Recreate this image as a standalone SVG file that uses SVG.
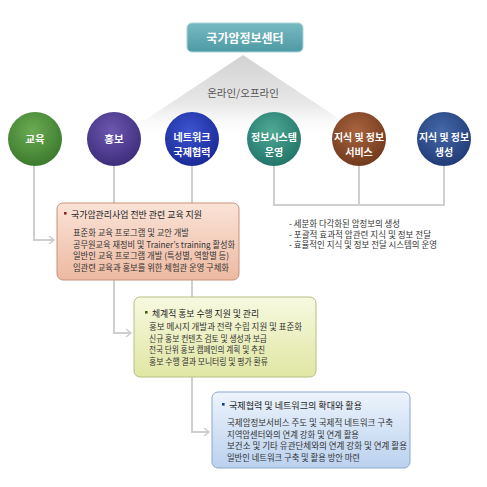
<svg xmlns="http://www.w3.org/2000/svg" width="487" height="487" viewBox="0 0 487 487">
<defs>
<style>
.t{font-family:"Noto Sans CJK KR","Noto Sans",sans-serif;}
.ct{font-family:"Noto Sans CJK KR","Noto Sans",sans-serif;font-size:10.5px;font-weight:bold;fill:#fff;text-anchor:middle;}
.c2{font-size:10px;}
.bh{font-family:"Noto Sans CJK KR","Noto Sans",sans-serif;font-size:9px;fill:#222;}
.bl{font-family:"Noto Sans CJK KR","Noto Sans",sans-serif;font-size:8.6px;fill:#333;}
.conn{fill:none;stroke:#cfcfcf;stroke-width:2;}
</style>
<linearGradient id="tri" x1="0" y1="0" x2="0" y2="1">
<stop offset="0" stop-color="#d2d2d2"/>
<stop offset="0.6" stop-color="#e8e8e8"/>
<stop offset="1" stop-color="#ffffff" stop-opacity="0"/>
</linearGradient>
<linearGradient id="topg" x1="0" y1="0" x2="0" y2="1">
<stop offset="0" stop-color="#78bac2"/>
<stop offset="1" stop-color="#4e9aa4"/>
</linearGradient>
<linearGradient id="g1" x1="0" y1="0" x2="0" y2="1">
<stop offset="0" stop-color="#fae3d7"/>
<stop offset="1" stop-color="#edb9a1"/>
</linearGradient>
<linearGradient id="g2" x1="0" y1="0" x2="0" y2="1">
<stop offset="0" stop-color="#f7f9e0"/>
<stop offset="1" stop-color="#e0e6a4"/>
</linearGradient>
<linearGradient id="g3" x1="0" y1="0" x2="0" y2="1">
<stop offset="0" stop-color="#edf4fc"/>
<stop offset="1" stop-color="#bad1ee"/>
</linearGradient>
<radialGradient id="cGreen" cx="0.45" cy="0.35" r="0.65"><stop offset="0" stop-color="#6aac52"/><stop offset="1" stop-color="#3c7a2e"/></radialGradient>
<radialGradient id="cPurple" cx="0.45" cy="0.35" r="0.65"><stop offset="0" stop-color="#6c58b0"/><stop offset="1" stop-color="#3e2d7c"/></radialGradient>
<radialGradient id="cBlue" cx="0.45" cy="0.35" r="0.65"><stop offset="0" stop-color="#3d55d0"/><stop offset="1" stop-color="#1a2a98"/></radialGradient>
<radialGradient id="cTeal" cx="0.45" cy="0.35" r="0.65"><stop offset="0" stop-color="#4fa894"/><stop offset="1" stop-color="#23766a"/></radialGradient>
<radialGradient id="cBrown" cx="0.45" cy="0.35" r="0.65"><stop offset="0" stop-color="#a8643e"/><stop offset="1" stop-color="#733a1e"/></radialGradient>
<radialGradient id="cNavy" cx="0.45" cy="0.35" r="0.65"><stop offset="0" stop-color="#4468a8"/><stop offset="1" stop-color="#213c78"/></radialGradient>
<marker id="arr" markerWidth="8" markerHeight="10" refX="6" refY="5" orient="auto" markerUnits="userSpaceOnUse">
<polyline points="1,1 6,5 1,9" fill="none" stroke="#cfcfcf" stroke-width="1.6"/>
</marker>
</defs>
<rect width="487" height="487" fill="#ffffff"/>

<g id="triangle">
<polygon points="243,55 118,138 368,138" fill="url(#tri)"/>
<text class="t" x="243" y="97" font-size="10.5" fill="#555" text-anchor="middle">온라인/오프라인</text>
</g>

<g id="connectors">
<path class="conn" d="M34,166 V240 H54" marker-end="url(#arr)"/>
<path class="conn" d="M114,166 V333 H131" marker-end="url(#arr)"/>
<path class="conn" d="M192,166 V432 H209" marker-end="url(#arr)"/>
<path class="conn" d="M274,166 V205 H444 V166"/>
<path class="conn" d="M359,166 V205"/>
</g>

<g id="top">
<rect x="187" y="23" width="116" height="29" rx="5" fill="url(#topg)" stroke="#a9d3d8" stroke-width="1"/>
<text class="t" x="245" y="43" font-size="12" font-weight="bold" fill="#fff" text-anchor="middle">국가암정보센터</text>
</g>

<g id="n-edu">
<circle cx="35" cy="139" r="27" fill="url(#cGreen)"/>
<text class="ct" x="35" y="143">교육</text>
</g>
<g id="n-pr">
<circle cx="114" cy="139" r="27" fill="url(#cPurple)"/>
<text class="ct" x="114" y="143">홍보</text>
</g>
<g id="n-net">
<circle cx="192" cy="139" r="27" fill="url(#cBlue)"/>
<text class="ct c2" x="192" y="140.5">네트워크</text>
<text class="ct c2" x="192" y="155.5">국제협력</text>
</g>
<g id="n-sys">
<circle cx="274" cy="139" r="27" fill="url(#cTeal)"/>
<text class="ct c2" x="274" y="140.5">정보시스템</text>
<text class="ct c2" x="274" y="155.5">운영</text>
</g>
<g id="n-svc">
<circle cx="359" cy="139" r="27" fill="url(#cBrown)"/>
<text class="ct c2" x="359" y="140.5" textLength="50" lengthAdjust="spacingAndGlyphs">지식 및 정보</text>
<text class="ct c2" x="359" y="155.5">서비스</text>
</g>
<g id="n-gen">
<circle cx="444" cy="139" r="27" fill="url(#cNavy)"/>
<text class="ct c2" x="444" y="140.5" textLength="50" lengthAdjust="spacingAndGlyphs">지식 및 정보</text>
<text class="ct c2" x="444" y="155.5">생성</text>
</g>

<g id="box-edu">
<rect x="57" y="203" width="182" height="77" rx="6" fill="url(#g1)" stroke="#c8917a" stroke-width="1"/>
<rect x="64" y="212" width="2.6" height="2.6" fill="#8b2a1a"/>
<text class="bh" x="71" y="218" textLength="131" lengthAdjust="spacingAndGlyphs">국가암관리사업 전반 관련 교육 지원</text>
<text class="bl" x="73" y="236" textLength="116" lengthAdjust="spacingAndGlyphs">표준화 교육 프로그램 및 교안 개발</text>
<text class="bl" x="73" y="247.5" textLength="162" lengthAdjust="spacingAndGlyphs">공무원교육 재정비 및 Trainer’s training 활성화</text>
<text class="bl" x="73" y="259" textLength="156" lengthAdjust="spacingAndGlyphs">일반인 교육 프로그램 개발 (특성별, 역할별 등)</text>
<text class="bl" x="73" y="270.5" textLength="156" lengthAdjust="spacingAndGlyphs">임관련 교육과 홍보를 위한 체험관 운영 구체화</text>
</g>

<g id="box-pr">
<rect x="134" y="297" width="182" height="80" rx="6" fill="url(#g2)" stroke="#b9be82" stroke-width="1"/>
<rect x="145" y="311" width="2.6" height="2.6" fill="#4a5a1a"/>
<text class="bh" x="152" y="317" textLength="107" lengthAdjust="spacingAndGlyphs">체계적 홍보 수행 지원 및 관리</text>
<text class="bl" x="149" y="330" textLength="153" lengthAdjust="spacingAndGlyphs">홍보 메시지 개발과 전략 수립 지원 및 표준화</text>
<text class="bl" x="149" y="341.5" textLength="118" lengthAdjust="spacingAndGlyphs">신규 홍보 컨텐츠 검토 및 생성과 보급</text>
<text class="bl" x="149" y="353" textLength="116" lengthAdjust="spacingAndGlyphs">전국 단위 홍보 캠페인의 계획 및 추진</text>
<text class="bl" x="149" y="364.5" textLength="119" lengthAdjust="spacingAndGlyphs">홍보 수행 결과 모니터링 및 평가 환류</text>
</g>

<g id="box-net">
<rect x="212" y="392" width="198" height="76" rx="6" fill="url(#g3)" stroke="#8aa7cc" stroke-width="1"/>
<rect x="222" y="403" width="2.6" height="2.6" fill="#1a3a7a"/>
<text class="bh" x="229" y="409" textLength="133" lengthAdjust="spacingAndGlyphs">국제협력 및 네트워크의 확대와 활용</text>
<text class="bl" x="227" y="426" textLength="166" lengthAdjust="spacingAndGlyphs">국제암정보서비스 주도 및 국제적 네트워크 구축</text>
<text class="bl" x="227" y="437.5" textLength="132" lengthAdjust="spacingAndGlyphs">지역암센터와의 연계 강화 및 연계 활용</text>
<text class="bl" x="227" y="449" textLength="180" lengthAdjust="spacingAndGlyphs">보건소 및 기타 유관단체와의 연계 강화 및 연계 활용</text>
<text class="bl" x="227" y="460.5" textLength="133" lengthAdjust="spacingAndGlyphs">일반인 네트워크 구축 및 활용 방안 마련</text>
</g>

<g id="list-right">
<text class="bl" x="289" y="227" textLength="111" lengthAdjust="spacingAndGlyphs">- 세분화 다각화된 암정보의 생성</text>
<text class="bl" x="289" y="237.5" textLength="142" lengthAdjust="spacingAndGlyphs">- 포괄적 효과적 암관련 지식 및 정보 전달</text>
<text class="bl" x="289" y="248" textLength="148" lengthAdjust="spacingAndGlyphs">- 효율적인 지식 및 정보 전달 시스템의 운영</text>
</g>
</svg>
